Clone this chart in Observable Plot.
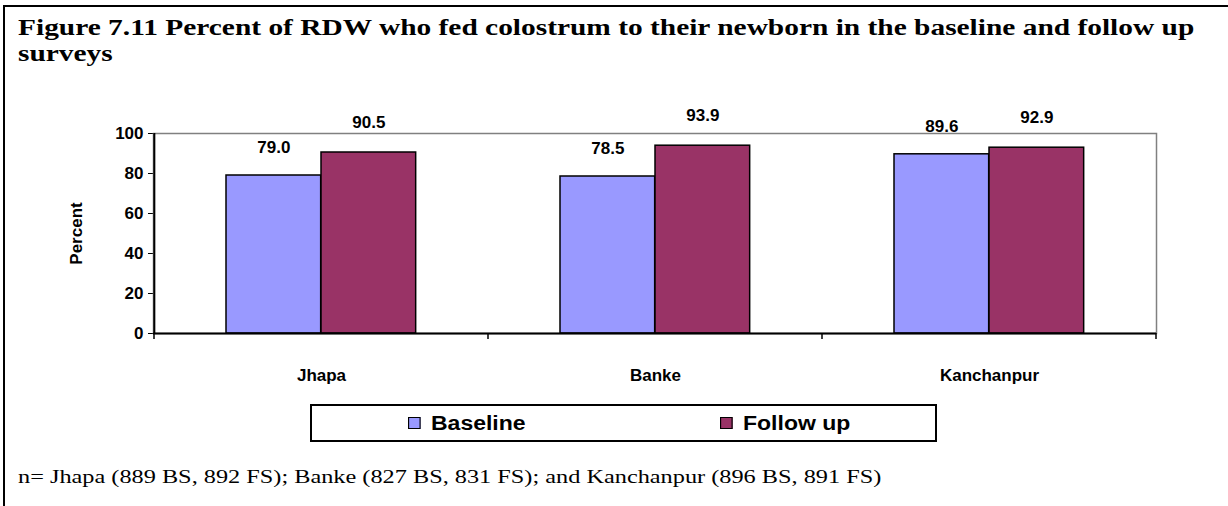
<!DOCTYPE html>
<html>
<head>
<meta charset="utf-8">
<script src="https://cdn.jsdelivr.net/npm/d3@7"></script>
<script src="https://cdn.jsdelivr.net/npm/@observablehq/plot@0.6"></script>
<style>
  html, body { margin: 0; padding: 0; background: #fff; }
  #fig { position: relative; width: 1228px; height: 506px; overflow: hidden; background: #fff; }
  #borderTop { position: absolute; left: 3px; top: 5px; width: 1225px; height: 2px; background: #000; }
  #borderLeft { position: absolute; left: 3px; top: 5px; width: 2px; height: 501px; background: #000; }
  #title { position: absolute; left: 18px; top: 14px; width: 982px; transform: scaleX(1.225); transform-origin: 0 0; font-family: "Liberation Serif", "Times New Roman", serif; font-weight: bold; font-size: 24px; line-height: 26px; color: #000; }
  #chart { position: absolute; left: 0; top: 90px; }
  #legend { position: absolute; left: 310px; top: 404px; width: 623px; height: 34px; border: 2px solid #000; font-family: "Liberation Sans", Arial, sans-serif; font-weight: bold; font-size: 20px; }
  .item { position: absolute; top: 4px; height: 26px; display: flex; align-items: center; transform-origin: 0 50%; transform: scaleX(1.15); }
  .sw { width: 9px; height: 10px; border: 1.5px solid #000; margin-right: 9px; }
  #note { position: absolute; left: 18px; top: 465px; white-space: nowrap; transform: scaleX(1.3); transform-origin: 0 0; font-family: "Liberation Serif", "Times New Roman", serif; font-size: 18.7px; line-height: 24px; color: #000; }
</style>
</head>
<body>
<div id="fig">
  <div id="borderTop"></div>
  <div id="borderLeft"></div>
  <div id="title"></div>
  <div id="chart"></div>
  <div id="legend"></div>
  <div id="note"></div>
</div>
<script>
const titleText = "Figure 7.11 Percent of RDW who fed colostrum to their newborn in the baseline and follow up surveys";
const noteText = "n= Jhapa (889 BS, 892 FS); Banke (827 BS, 831 FS); and Kanchanpur (896 BS, 891 FS)";
const districts = ["Jhapa", "Banke", "Kanchanpur"];
const seriesNames = ["Baseline", "Follow up"];
const baselineValues = [79.0, 78.5, 89.6];
const followUpValues = [90.5, 93.9, 92.9];
const seriesColors = ["#9999FF", "#993366"];
const yTicks = [0, 20, 40, 60, 80, 100];
const yLabel = "Percent";

document.getElementById("title").textContent = titleText;
document.getElementById("note").textContent = noteText;

const rows = [];
districts.forEach((d, i) => {
  rows.push({district: d, series: seriesNames[0], value: baselineValues[i]});
  rows.push({district: d, series: seriesNames[1], value: followUpValues[i]});
});
const baseRows = rows.filter(r => r.series === seriesNames[0]);
const followRows = rows.filter(r => r.series === seriesNames[1]);

const step = 334.33;
const barW = 95;
const groupOffset = 72;

const boundaryTicks = (index, scales) => {
  const x = scales.x, y = scales.y;
  const bw = x.bandwidth();
  const xs = districts.map(d => x(d)).concat([x(districts[districts.length - 1]) + bw]);
  const y0 = y(0);
  const g = d3.create("svg:g").attr("stroke", "#000").attr("stroke-width", 1.5);
  xs.forEach(xv => g.append("line").attr("x1", xv).attr("x2", xv).attr("y1", y0).attr("y2", y0 + 6));
  return g.node();
};

const plot = Plot.plot({
  width: 1228,
  height: 310,
  marginLeft: 153,
  marginRight: 72,
  marginTop: 43,
  marginBottom: 67,
  style: {fontFamily: "'Liberation Sans', Arial, sans-serif", fontWeight: "bold", fontSize: "17px", color: "#000", background: "transparent", overflow: "visible"},
  x: {type: "band", domain: districts, padding: 0, tickSize: 0, tickPadding: 35, label: null},
  y: {domain: [0, 100], ticks: yTicks, tickSize: 5, tickPadding: 5, label: yLabel, labelAnchor: "center", labelOffset: 84, labelArrow: "none", line: false},
  color: {domain: seriesNames, range: seriesColors},
  marks: [
    Plot.frame({stroke: "#808080", strokeWidth: 1.5}),
    Plot.barY(baseRows, {x: "district", y: "value", fill: "series", stroke: "#000", strokeWidth: 1.5, insetLeft: groupOffset, insetRight: step - groupOffset - barW}),
    Plot.barY(followRows, {x: "district", y: "value", fill: "series", stroke: "#000", strokeWidth: 1.5, insetLeft: groupOffset + barW, insetRight: step - groupOffset - 2 * barW}),
    Plot.text(baseRows, {x: "district", y: "value", text: d => d.value.toFixed(1), dx: groupOffset + barW / 2 - step / 2, dy: -28, fontSize: 17, fontWeight: "bold", fill: "#000"}),
    Plot.text(followRows, {x: "district", y: "value", text: d => d.value.toFixed(1), dx: groupOffset + 1.5 * barW - step / 2, dy: -30, fontSize: 17, fontWeight: "bold", fill: "#000"}),
    Plot.ruleY([0], {stroke: "#000", strokeWidth: 2}),
    Plot.ruleX([districts[0]], {dx: -step / 2, y1: 0, y2: 100, stroke: "#000", strokeWidth: 2}),
    boundaryTicks
  ]
});
document.getElementById("chart").appendChild(plot);

const legend = document.getElementById("legend");
const legendLefts = [96, 408];
seriesNames.forEach((s, i) => {
  const it = document.createElement("div");
  it.className = "item";
  it.style.left = legendLefts[i] + "px";
  const sw = document.createElement("div");
  sw.className = "sw";
  sw.style.background = seriesColors[i];
  const t = document.createElement("span");
  t.textContent = s;
  it.appendChild(sw);
  it.appendChild(t);
  legend.appendChild(it);
});
</script>
</body>
</html>
